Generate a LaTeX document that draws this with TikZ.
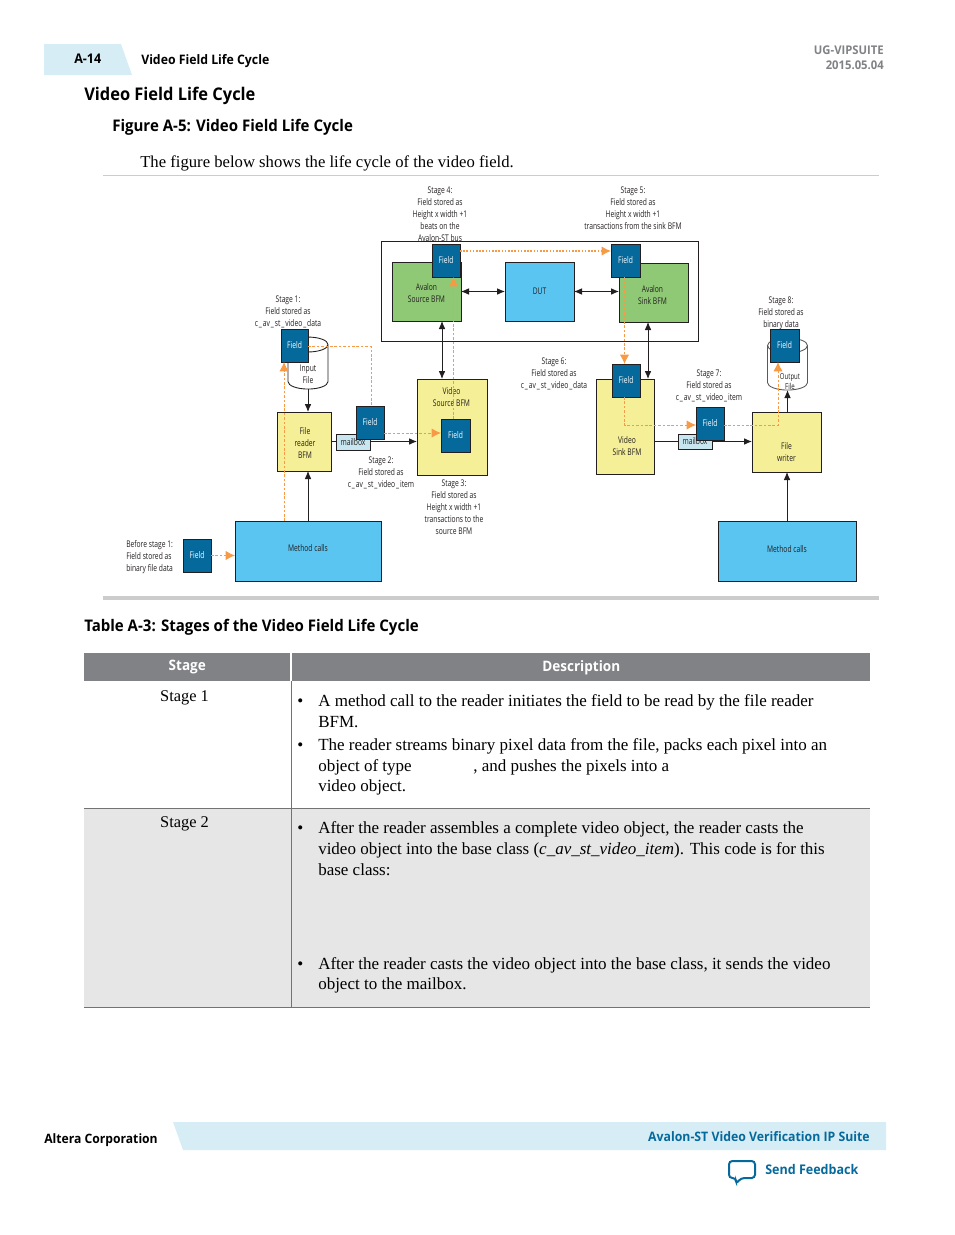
\documentclass[tikz,border=0pt]{standalone}
\usepackage{fontspec}
\usepackage{tikz}
\usetikzlibrary{arrows.meta}
\usetikzlibrary{shapes.geometric}
\setmainfont{Liberation Serif}
\newfontfamily\headfont[FakeStretch=0.94]{Open Sans}
\newfontfamily\figfont[FakeStretch=0.73]{Open Sans}
\newcommand\ubar{\kern.7pt\_\kern.7pt}
\newcommand\drumsize{\phantom{\rule{14pt}{14pt}}}
\definecolor{inkblack}{HTML}{231F20}
\definecolor{fieldblue}{HTML}{05699C}
\definecolor{dutblue}{HTML}{5BC5F2}
\definecolor{bfmyellow}{HTML}{F5F097}
\definecolor{avalongreen}{HTML}{8FC975}
\definecolor{mailblue}{HTML}{C8E6EF}
\definecolor{flowline}{HTML}{F79A46}
\definecolor{bandblue}{HTML}{D6EDF5}
\definecolor{headgray}{HTML}{808285}
\definecolor{rowgray}{HTML}{E6E6E6}
\tikzset{
  wh/.style 2 args={minimum width=#1*.75pt, minimum height=#2*.75pt},
  block/.style={draw=inkblack, line width=.65pt, anchor=north west, inner sep=0pt, outer sep=0pt,
    align=center, text=inkblack, font=\figfont\fontsize{6.9}{9}\selectfont},
  field/.style={block, fill=fieldblue, text=white, wh={28}{33}},
  bfm/.style={block, fill=bfmyellow},
  avalon/.style={block, fill=avalongreen, wh={69}{59}},
  calls/.style={block, fill=dutblue},
  mailbox/.style={block, fill=mailblue, wh={34}{16}},
  drum/.style={cylinder, shape border rotate=90, aspect=.8, draw=inkblack, fill=white, line width=.65pt,
    inner sep=0pt, outer sep=0pt, minimum width=30pt, minimum height=39pt},
  note/.style={align=center, inner sep=0pt, text=inkblack, font=\figfont\fontsize{6.9}{9}\selectfont},
  wire/.style={draw=inkblack, line width=.65pt},
  solid arrow/.style={wire, -{Latex[length=6pt,width=5pt]}},
  both arrow/.style={wire, {Latex[length=6pt,width=5pt]}-{Latex[length=6pt,width=5pt]}},
  flow/.style={draw=flowline, line width=.75pt, dash pattern=on 2pt off 1.3pt},
  flow arrow/.style={flow, -{Latex[length=7pt,width=7pt]}},
  body/.style={anchor=base west, inner sep=0pt, text=black, font=\fontsize{12.75}{15}\selectfont},
  head/.style={anchor=base west, inner sep=0pt, text=black, font=\headfont\bfseries},
}
\begin{document}
\begin{tikzpicture}[x=.75pt, y=-.75pt]
  \useasboundingbox (0,0) rectangle (954,1235);

  % page header
  \fill[bandblue] (44,44) -- (121,44) -- (132,75) -- (44,75) -- cycle;
  \node[head, font=\headfont\bfseries\fontsize{10}{12}\selectfont] (tabno) at (74,63) {A-14};
  \node[head, font=\headfont\bfseries\fontsize{9.8}{12}\selectfont] (tabtitle) at (141,64) {Video Field Life Cycle};
  \node[anchor=base east, inner sep=0pt, text=headgray, align=right,
    font=\headfont\bfseries\fontsize{9}{11.2}\selectfont] (docid) at (884,69) {UG-VIPSUITE\\2015.05.04};
  \node[head, font=\headfont\bfseries\fontsize{13.1}{16}\selectfont] (pagetitle) at (84,100) {Video Field Life Cycle};
  \node[head, font=\headfont\bfseries\fontsize{12}{15}\selectfont] (figtitle) at (112,131) {Figure A-5: Video Field Life Cycle};
  \node[body, font=\fontsize{12.5}{15}\selectfont] (intro) at (140,167) {The figure below shows the life cycle of the video field.};
  \draw[black!20, line width=.6pt] (103,175) -- (879,175);

  % testbench frame and the blocks
  \node[block, wh={317}{100}] (bench) at (381,241) {};
  \node[avalon] (avsource) at (392,262) {};
  \node[calls, wh={69}{59}] (dut) at (505,262) {DUT};
  \node[avalon] (avsink) at (619,263) {};
  \node[bfm, wh={54}{59}] (reader) at (277,412) {};
  \node[bfm, wh={70}{96}] (vsource) at (417,379) {};
  \node[bfm, wh={58}{95}] (vsink) at (596,379) {};
  \node[bfm, wh={69}{60}] (writer) at (752,412) {};
  \node[calls, wh={146}{60}, text depth=4pt] (callsleft) at (235,521) {Method calls};
  \node[calls, wh={138}{60}, text depth=3pt] (callsright) at (718,521) {Method calls};
  \node[drum] (infile) at (308,367) {\drumsize};
  \node[drum, draw=black!65] (outfile) at (787.5,368) {\drumsize};
  \node[note] (avsourcetext) at (426.5,293) {Avalon\\Source BFM};
  \node[note] (avsinktext) at (652.5,295) {Avalon\\Sink BFM};
  \node[note] (readertext) at (305,443) {File\\reader\\BFM};
  \node[note] (vsourcetext) at (451.5,397) {Video\\Source BFM};
  \node[note] (vsinktext) at (627,446) {Video\\Sink BFM};
  \node[note] (writertext) at (786.5,452) {File\\writer};
  \node[note] (infiletext) at (308,374) {Input\\File};
  \node[note, font=\figfont\fontsize{6.2}{7.5}\selectfont] (outfiletext) at (790,382) {Output\\File};

  % control and data connections
  \draw[both arrow] (avsource.east |- dut.west) -- (dut.west);
  \draw[both arrow] (dut.east) -- (avsink.west |- dut.east);
  \draw[both arrow] (442,321) -- (442,379);
  \draw[both arrow] (648,322) -- (648,379);
  \draw[solid arrow] (infile.south) -- (infile.south |- reader.north);
  \draw[solid arrow] (reader.east |- 0,441.5) -- (vsource.west |- 0,441.5);
  \draw[solid arrow] (callsleft.north) -- (callsleft.north |- reader.south);
  \draw[solid arrow] (vsink.east |- 0,441.5) -- (writer.west |- 0,441.5);
  \draw[solid arrow] (writer.north -| outfile.south) -- (outfile.south);
  \draw[solid arrow] (callsright.north) -- (callsright.north |- writer.south);

  \node[mailbox] (boxleft) at (336,434) {mailbox};
  \node[mailbox, wh={34}{15}] (boxright) at (678,434) {mailbox};

  % the field at each stage
  \node[field] (field0) at (183,539) {Field};
  \node[field, wh={27}{33}] (field1) at (281,329) {Field};
  \node[field] (field2) at (356,406) {Field};
  \node[field, wh={29}{33}] (field3) at (441,419) {Field};
  \node[field] (field4) at (432,244) {Field};
  \node[field, wh={29}{33}] (field5) at (611,244) {Field};
  \node[field] (field6) at (612,364) {Field};
  \node[field] (field7) at (696,407) {Field};
  \node[field, wh={29}{33}] (field8) at (770,329) {Field};

  % path of the field
  \coordinate (in1) at (284,362);
  \coordinate (out0) at (284,521);
  \coordinate (in4) at (453.5,277);
  \coordinate (out3) at (453.5,419);
  \coordinate (in8) at (778,362);
  \draw[flow arrow] (field0.east) -- (callsleft.west |- field0.east);
  \draw[flow arrow] (out0) -- (in1);
  \draw[flow] (308,346.5) -- (371,346.5) -- (371,406);
  \draw[flow arrow] (field2.east |- 0,433) -- (field3.west |- 0,433);
  \draw[flow arrow] (out3) -- (in4);
  \draw[flow arrow, line width=1pt, dash pattern=on 1.2pt off 1.2pt] (field4.east |- 0,251) -- (field5.west |- 0,251);
  \draw[flow arrow] (624.5,277) -- (624.5,364);
  \draw[flow arrow] (624.5,397) |- (field7.west |- 0,425);
  \draw[flow arrow] (field7.east |- 0,425) -| (in8);

  % stage captions
  \node[note] (stage0) at (126,557) [anchor=west, align=left] {Before stage 1:\\Field stored as\\binary file data};
  \node[note] (stage1) at (288,312) {Stage 1:\\Field stored as\\c\ubar av\ubar st\ubar video\ubar data};
  \node[note] (stage2) at (381,473) {Stage 2:\\Field stored as\\c\ubar av\ubar st\ubar video\ubar item};
  \node[note] (stage3) at (454,507) {Stage 3:\\Field stored as\\Height x width +1\\transactions to the\\source BFM};
  \node[note] (stage4) at (440,214) {Stage 4:\\Field stored as\\Height x width +1\\beats on the\\Avalon-ST bus};
  \node[note] (stage5) at (633,208) {Stage 5:\\Field stored as\\Height x width +1\\transactions from the sink BFM};
  \node[note] (stage6) at (554,374) {Stage 6:\\Field stored as\\c\ubar av\ubar st\ubar video\ubar data};
  \node[note] (stage7) at (709,386) {Stage 7:\\Field stored as\\c\ubar av\ubar st\ubar video\ubar item};
  \node[note] (stage8) at (781,313) {Stage 8:\\Field stored as\\binary data};

  \draw[black!20, line width=3pt] (103,598) -- (879,598);
  \node[head, font=\headfont\bfseries\fontsize{12}{15}\selectfont] (tabletitle) at (84,631) {Table A-3: Stages of the Video Field Life Cycle};

  % table
  \fill[rowgray] (84,808) rectangle (870,1007);
  \node[anchor=north west, fill=headgray, wh={206}{28}, inner sep=0pt, text=white,
    font=\headfont\bfseries\fontsize{10.8}{13}\selectfont] (headstage) at (84,653) {Stage};
  \node[anchor=north west, fill=headgray, wh={578}{28}, inner sep=0pt, text=white,
    font=\headfont\bfseries\fontsize{10.8}{13}\selectfont] (headdesc) at (292,653) {Description};
  \draw[black!55, line width=.6pt] (291,681) -- (291,1007);
  \draw[black!55, line width=.6pt] (84,808) -- (870,808);
  \draw[black!55, line width=.6pt] (84,1007) -- (870,1007);

  \node[body, anchor=base, font=\fontsize{12.3}{15}\selectfont] (stageone) at (184.5,701) {Stage 1};
  \node[body, anchor=base, font=\fontsize{12.3}{15}\selectfont] (stagetwo) at (184.5,827) {Stage 2};

  \node[body] (dot1) at (297,706) {•};
  \node[body] (line1) at (318,706) {A method call to the reader initiates the field to be read by the file reader};
  \node[body] (line2) at (318,727) {BFM.};
  \node[body] (dot2) at (297,750) {•};
  \node[body] (line3) at (318,750) {The reader streams binary pixel data from the file, packs each pixel into an};
  \node[body] (line4) at (318,771) {object of type};
  \node[body] (line4b) at (473,771) {, and pushes the pixels into a};
  \node[body] (line5) at (318,791) {video object.};
  \node[body] (dot3) at (297,833) {•};
  \node[body] (line6) at (318,833) {After the reader assembles a complete video object, the reader casts the};
  \node[body] (line7) at (318,854) {video object into the base class (\textit{c\_av\_st\_video\_item}). This code is for this};
  \node[body] (line8) at (318,875) {base class:};
  \node[body] (dot4) at (297,969) {•};
  \node[body] (line9) at (318,969) {After the reader casts the video object into the base class, it sends the video};
  \node[body] (line10) at (318,989) {object to the mailbox.};

  % page footer
  \fill[bandblue] (173,1122) -- (886,1122) -- (886,1150) -- (183,1150) -- cycle;
  \node[head, font=\headfont\bfseries\fontsize{9.7}{12}\selectfont] (company) at (44,1143) {Altera Corporation};
  \node[head, anchor=base east, text=fieldblue, font=\headfont\bfseries\fontsize{9.8}{12}\selectfont] (suite) at (870,1141) {Avalon-ST Video Verification IP Suite};
  \node[head, text=fieldblue, font=\headfont\bfseries\fontsize{10}{12}\selectfont] (feedback) at (765,1174) {Send Feedback};
  \draw[fieldblue, line width=1.5pt, rounded corners=2.5pt] (729,1161) -- (755,1161) -- (755,1178) -- (741,1178)
    -- (736,1184) -- (736,1178) -- (729,1178) -- cycle;
\end{tikzpicture}
\end{document}
